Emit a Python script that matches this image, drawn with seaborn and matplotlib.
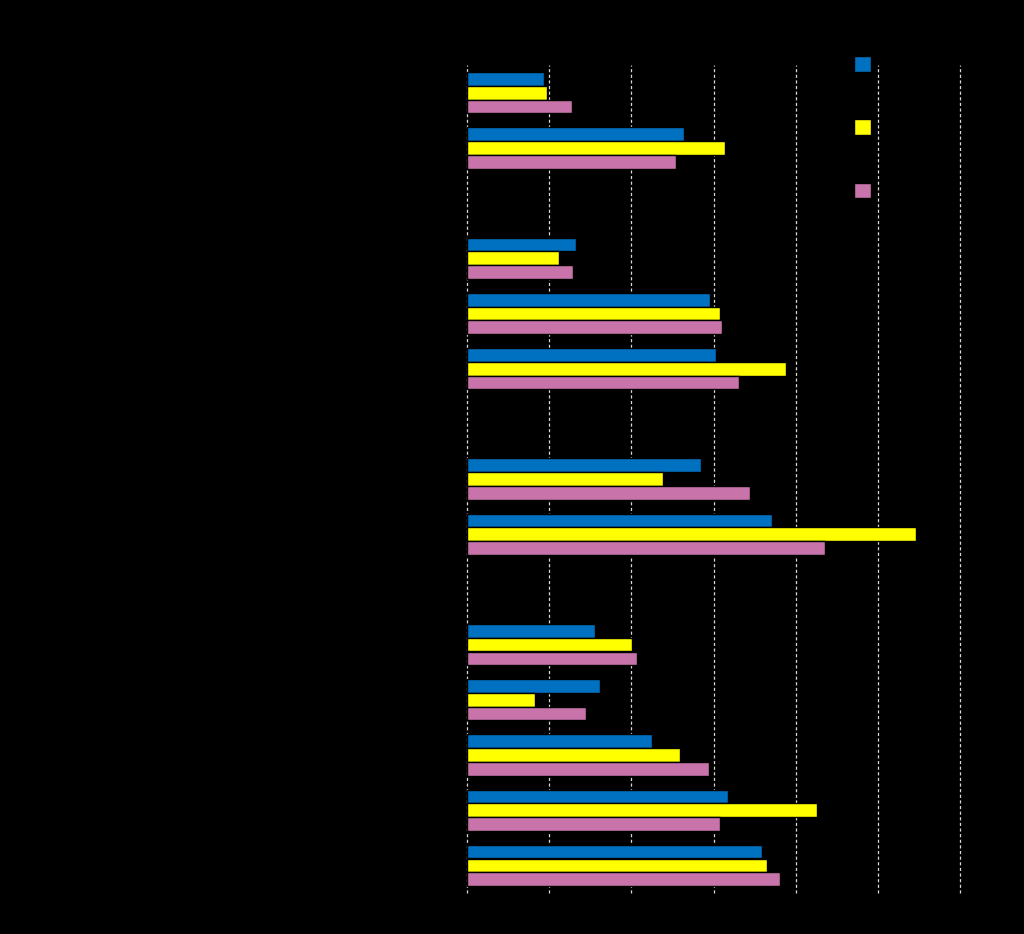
import seaborn as sns
import matplotlib.pyplot as plt
import pandas as pd

# ---- data (text in the original is black on black) ----
slot_order = ["Category 1", "Category 2", "Section B",
              "Category 3", "Category 4", "Category 5", "Section C",
              "Category 6", "Category 7", "Section D",
              "Category 8", "Category 9", "Category 10", "Category 11", "Category 12"]
categories = ["Category 1", "Category 2", "Category 3", "Category 4", "Category 5",
              "Category 6", "Category 7", "Category 8", "Category 9", "Category 10",
              "Category 11", "Category 12"]
series = ["Series A", "Series B", "Series C"]
values_a = [9.4, 26.4, 13.3, 29.6, 30.3, 28.5, 37.1, 15.6, 16.2, 22.5, 31.8, 35.9]
values_b = [9.7, 31.4, 11.2, 30.8, 38.8, 23.8, 54.7, 20.1, 8.3, 25.9, 42.6, 36.5]
values_c = [12.8, 25.4, 12.9, 31.0, 33.1, 34.5, 43.6, 20.7, 14.5, 29.4, 30.8, 38.1]
x_ticks = [0, 10, 20, 30, 40, 50, 60]
colors = ["#0070C0", "#FFFF00", "#C874AA"]

rows = []
for s, vals in zip(series, [values_a, values_b, values_c]):
    for c, v in zip(categories, vals):
        rows.append({"category": c, "value": v, "series": s})
df = pd.DataFrame(rows)

sns.set_theme(style="dark")
plt.rcParams["font.family"] = ["DejaVu Sans"]

fig = plt.figure(figsize=(10.24, 9.34), dpi=100, facecolor="black")
ax = fig.add_axes([467 / 1024, 1 - 893 / 934, (960 - 467) / 1024, (893 - 65) / 934])
ax.set_facecolor("black")

sns.barplot(data=df, y="category", x="value", hue="series", order=slot_order,
            hue_order=series, palette=colors, orient="h", width=0.75,
            edgecolor="black", linewidth=1, saturation=1, ax=ax)

ax.set_xlim(0, 60)
ax.set_xticks(x_ticks)
ax.set_ylim(len(slot_order) - 0.5, -0.5)
ax.set_axisbelow(True)
ax.grid(False)
ax.xaxis.grid(True, color="#d8d8d8", linestyle=(0, (2.5, 2)), linewidth=0.9)
for gl in ax.get_xgridlines():
    gl.set_clip_on(False)
for sp in ax.spines.values():
    sp.set_visible(False)
ax.tick_params(colors="black", labelcolor="black", length=0)
ax.set_xlabel("", color="black")
ax.set_ylabel("", color="black")

handles, labels = ax.get_legend_handles_labels()
leg = ax.legend(handles, labels, loc="upper left",
                bbox_to_anchor=(854 / 1024, 1 - 56 / 934), bbox_transform=fig.transFigure,
                frameon=False, fontsize=12.5, handlelength=1.0, handleheight=1.0,
                labelspacing=2.6, borderpad=0, borderaxespad=0, handletextpad=0.6)
for t in leg.get_texts():
    t.set_color("black")

fig.savefig("out.png", dpi=100, facecolor="black")
